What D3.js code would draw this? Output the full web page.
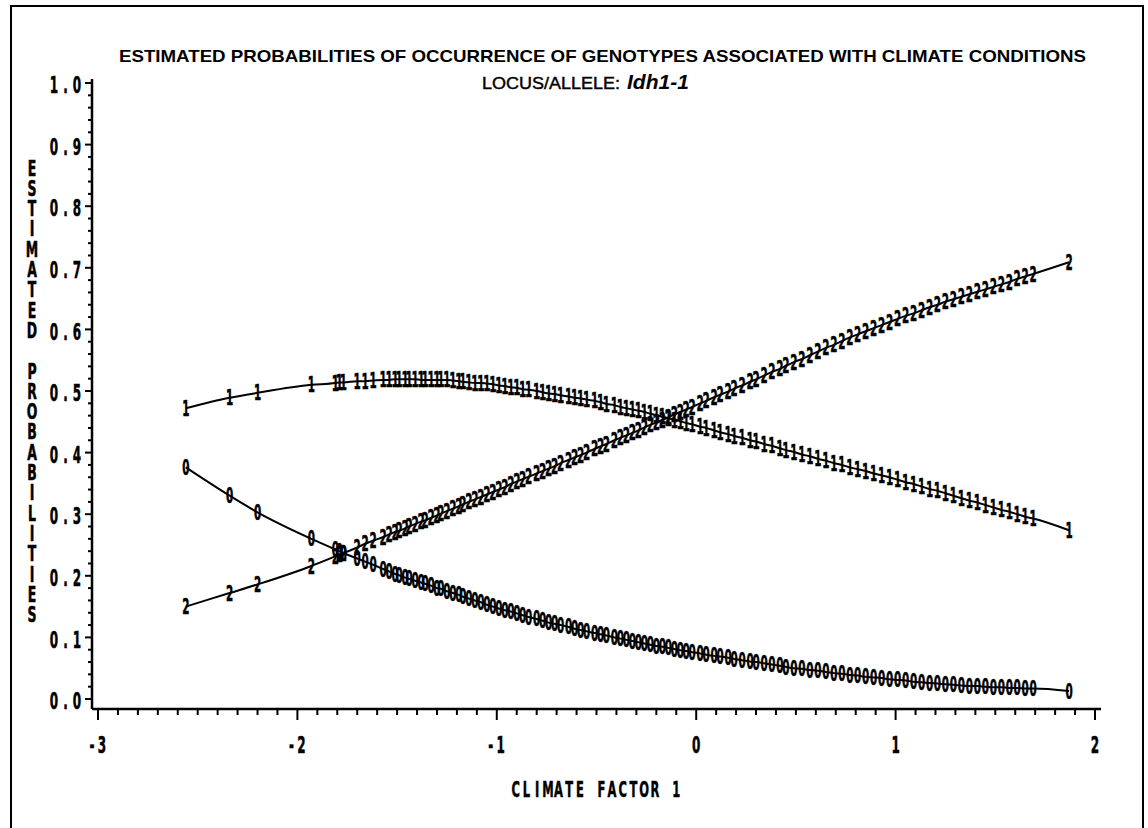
<!DOCTYPE html>
<html>
<head>
<meta charset="utf-8">
<script src="https://cdn.jsdelivr.net/npm/d3@7/dist/d3.min.js"></script>
<style>
	body { margin: 0; background: #fff; }
	svg { display: block; }
	.sas { font-family: "DejaVu Sans Condensed", "DejaVu Sans", sans-serif; font-weight: bold; fill: #000; stroke: #000; stroke-width: 0.5px; }
	.hd { font-family: "Liberation Sans", Arial, sans-serif; font-weight: bold; fill: #000; }
</style>
</head>
<body>
<svg id="chart" width="1148" height="828"></svg>
<script>
'use strict';

// climate factor of each observation
const obsX = [-2.56,-2.34,-2.20,-1.93,-1.81,-1.79,-1.77,-1.70,-1.66,-1.62,
	-1.57,-1.54,-1.51,-1.49,-1.46,-1.44,-1.41,-1.38,-1.36,-1.33,
	-1.30,-1.28,-1.25,-1.22,-1.19,-1.17,-1.14,-1.11,-1.08,-1.05,
	-1.02,-0.99,-0.96,-0.93,-0.90,-0.87,-0.84,-0.80,-0.77,-0.74,
	-0.71,-0.68,-0.64,-0.61,-0.58,-0.55,-0.51,-0.48,-0.45,-0.41,
	-0.38,-0.35,-0.32,-0.29,-0.26,-0.23,-0.20,-0.17,-0.14,-0.11,
	-0.08,-0.05,-0.02,0.02,0.05,0.09,0.12,0.16,0.19,0.23,
	0.27,0.30,0.34,0.38,0.42,0.45,0.49,0.53,0.57,0.61,
	0.65,0.69,0.73,0.77,0.81,0.85,0.89,0.93,0.97,1.01,
	1.05,1.09,1.13,1.17,1.21,1.25,1.29,1.33,1.37,1.41,
	1.45,1.49,1.53,1.57,1.61,1.65,1.69,1.87];

// estimated probability of genotype 0
const prob0 = [.376,.330,.303,.260,.243,.240,.237,.228,.223,.218,
	.211,.207,.203,.201,.197,.195,.192,.189,.187,.184,
	.180,.179,.175,.172,.169,.166,.163,.160,.157,.153,
	.150,.147,.144,.142,.139,.136,.133,.130,.127,.124,
	.122,.120,.117,.114,.112,.110,.107,.105,.103,.100,
	.098,.096,.094,.092,.090,.088,.086,.085,.083,.081,
	.079,.078,.076,.074,.072,.070,.069,.067,.065,.063,
	.061,.060,.058,.056,.054,.052,.050,.049,.047,.046,
	.044,.042,.041,.039,.038,.036,.035,.034,.032,.031,
	.030,.028,.027,.026,.025,.024,.023,.022,.021,.021,
	.020,.019,.019,.018,.018,.017,.017,.013];

// estimated probability of genotype 1
const prob1 = [.472,.489,.497,.510,.513,.514,.514,.516,.516,.517,
	.518,.518,.519,.519,.519,.519,.519,.518,.518,.518,
	.518,.518,.518,.517,.516,.515,.514,.513,.513,.512,
	.511,.509,.508,.506,.505,.503,.502,.500,.498,.496,
	.495,.493,.491,.489,.488,.486,.484,.482,.479,.477,
	.474,.472,.470,.468,.466,.463,.461,.458,.456,.453,
	.451,.448,.446,.442,.440,.436,.433,.430,.427,.424,
	.420,.418,.414,.411,.407,.404,.401,.397,.394,.390,
	.387,.383,.380,.376,.373,.370,.366,.363,.360,.356,
	.352,.349,.345,.341,.338,.334,.330,.326,.322,.319,
	.315,.311,.307,.304,.300,.296,.293,.274];

// estimated probability of genotype 2
const prob2 = [.150,.172,.186,.216,.232,.235,.237,.246,.252,.257,
	.263,.267,.271,.273,.277,.280,.284,.288,.290,.294,
	.298,.301,.305,.309,.313,.316,.320,.324,.328,.332,
	.336,.340,.344,.349,.353,.357,.361,.366,.370,.374,
	.378,.383,.388,.392,.396,.400,.406,.410,.414,.420,
	.424,.428,.432,.436,.441,.445,.449,.453,.457,.462,
	.466,.470,.474,.480,.484,.490,.494,.499,.504,.509,
	.515,.519,.525,.531,.536,.541,.547,.552,.558,.564,
	.570,.575,.581,.587,.592,.597,.602,.607,.612,.617,
	.622,.626,.631,.636,.640,.645,.649,.653,.657,.661,
	.665,.669,.673,.677,.682,.686,.690,.709];

const symbols = ['0', '1', '2'];
const xTicks = [-3, -2, -1, 0, 1, 2];
const yTicks = [0, 0.1, 0.2, 0.3, 0.4, 0.5, 0.6, 0.7, 0.8, 0.9, 1.0];
const yTickLabels = ['0.0', '0.1', '0.2', '0.3', '0.4', '0.5', '0.6', '0.7', '0.8', '0.9', '1.0'];

const svg = d3.select('#chart');

// outer frame
svg.append('rect')
	.attr('x', 11).attr('y', 6)
	.attr('width', 1132).attr('height', 830)
	.attr('fill', 'none').attr('stroke', '#000').attr('stroke-width', 2);

const x = d3.scaleLinear().domain([-3, 2]).range([98, 1095]);
const y = d3.scaleLinear().domain([0, 1]).range([699, 83]);
const axisY = 709, axisX = 92;

// draws a string one glyph at a time, like the fixed pitch plotter font
function sasText(g, str, cx, cy, size, pitch, anchor, sx) {
	let n = str.length, x0;
	sx = sx || 0.58;
	if (anchor === 'end') x0 = cx - (n - 1) * pitch;
	else if (anchor === 'start') x0 = cx;
	else x0 = cx - (n - 1) * pitch / 2;
	str.split('').forEach(function(ch, i) {
		if (ch === ' ') return;
		g.append('text')
			.attr('class', 'sas')
			.attr('transform', 'translate(' + (x0 + i * pitch) + ',' + cy + ') scale(' + sx + ',1)')
			.attr('text-anchor', 'middle')
			.attr('dy', '0.36em')
			.style('font-size', size + 'px')
			.text(ch);
	});
}

// titles
svg.append('text')
	.attr('class', 'hd')
	.attr('x', 119).attr('y', 62)
	.attr('textLength', 967)
	.attr('lengthAdjust', 'spacingAndGlyphs')
	.style('font-size', '17px')
	.text('ESTIMATED PROBABILITIES OF OCCURRENCE OF GENOTYPES ASSOCIATED WITH CLIMATE CONDITIONS');

svg.append('text')
	.attr('class', 'hd')
	.attr('x', 482).attr('y', 89)
	.attr('textLength', 138)
	.attr('lengthAdjust', 'spacingAndGlyphs')
	.style('font-size', '16px')
	.style('font-weight', 'normal')
	.style('stroke', '#000').style('stroke-width', 0.4)
	.text('LOCUS/ALLELE:');
svg.append('text')
	.attr('class', 'hd')
	.attr('x', 627).attr('y', 89)
	.style('font-style', 'italic')
	.style('font-size', '21px')
	.text('Idh1-1');

// x axis
let gx = svg.append('g').attr('transform', 'translate(0,' + axisY + ')');
gx.append('line').attr('x1', axisX).attr('x2', 1101).attr('stroke', '#000').attr('stroke-width', 2.5);
let minorX = d3.range(-30, 21).map(d => d / 10);
gx.selectAll('line.tk')
	.data(minorX)
	.enter().append('line')
	.attr('class', 'tk')
	.attr('x1', d => x(d)).attr('x2', d => x(d))
	.attr('y1', 0).attr('y2', d => Math.abs(d - Math.round(d)) < 1e-6 ? 11 : 6)
	.attr('stroke', '#000').attr('stroke-width', 2);
xTicks.forEach(function(t) {
	sasText(svg, t < 0 ? '-' + Math.abs(t) : String(t), x(t) - (t < 0 ? 1 : 0), 745, 23, 10, 'middle');
});
sasText(svg, 'CLIMATE FACTOR 1', 596, 789, 22, 10.7, 'middle');

// y axis
let gy = svg.append('g').attr('transform', 'translate(' + axisX + ',0)');
gy.append('line').attr('y1', 79).attr('y2', axisY).attr('stroke', '#000').attr('stroke-width', 2.5);
let minorY = d3.range(0, 51).map(d => d / 50);
gy.selectAll('line.tk')
	.data(minorY)
	.enter().append('line')
	.attr('class', 'tk')
	.attr('y1', d => y(d)).attr('y2', d => y(d))
	.attr('x1', 0).attr('x2', (d, i) => i % 5 === 0 ? -7 : -4)
	.attr('stroke', '#000').attr('stroke-width', 2);
yTicks.forEach(function(t, i) {
	sasText(svg, yTickLabels[i], 77, y(t) + 2, 23, 11.5, 'end');
});

// vertical stacked y title
'ESTIMATED PROBABILITIES'.split('').forEach(function(ch, i) {
	sasText(svg, ch, 32, 168 + i * 20.3, 21, 0, 'middle', 0.66);
});

// curves and plot symbols
const probs = [prob0, prob1, prob2];
const line = d3.line()
	.x(d => x(d[0]))
	.y(d => y(d[1]))
	.curve(d3.curveMonotoneX);

probs.forEach(function(p, k) {
	let pts = obsX.map((v, i) => [v, p[i]]);
	svg.append('path')
		.datum(pts)
		.attr('d', line)
		.attr('fill', 'none')
		.attr('stroke', '#000')
		.attr('stroke-width', 2);
	svg.append('g').selectAll('text')
		.data(pts)
		.enter().append('text')
		.attr('class', 'sas')
		.attr('transform', d => 'translate(' + x(d[0]) + ',' + y(d[1]) + ') scale(0.55,1)')
		.attr('text-anchor', 'middle')
		.attr('dy', '0.36em')
		.style('font-size', '21px')
		.text(symbols[k]);
});
</script>
</body>
</html>
